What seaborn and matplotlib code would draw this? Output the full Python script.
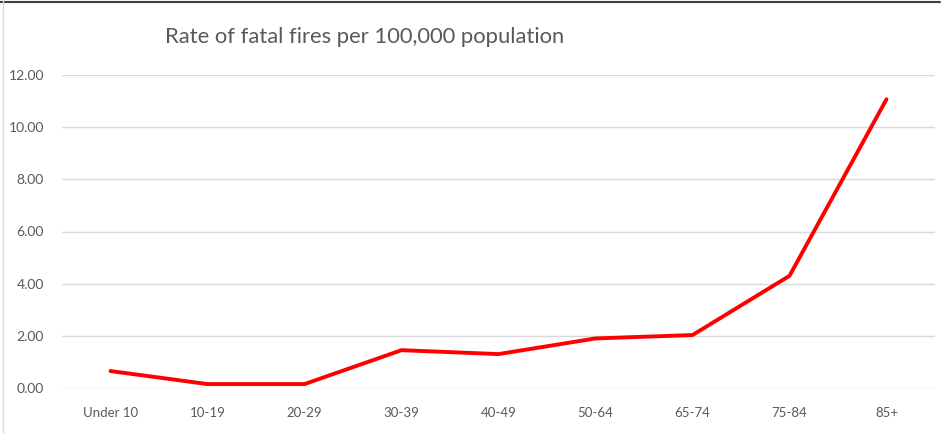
import matplotlib
matplotlib.use("Agg")
import matplotlib.pyplot as plt
import seaborn as sns
import pandas as pd
from matplotlib.lines import Line2D

categories = ["Under 10", "10-19", "20-29", "30-39", "40-49", "50-64", "65-74", "75-84", "85+"]
rates = [0.65, 0.15, 0.15, 1.45, 1.30, 1.90, 2.03, 4.30, 11.07]
y_ticks = [0, 2, 4, 6, 8, 10, 12]
title = "Rate of fatal fires per 100,000 population"

sns.set_theme(style="white")
plt.rcParams['font.family'] = ['Lato', 'DejaVu Sans']

df = pd.DataFrame({"age": categories, "rate": rates})

fig = plt.figure(figsize=(9.45, 4.33), dpi=100)
ax = fig.add_axes([62/945, 45/433, (935-62)/945, (388-75)/433])

sns.lineplot(data=df, x="age", y="rate", ax=ax, color="#FF0000", linewidth=2.8, sort=False)

ax.set_xlim(-0.5, len(categories) - 0.5)
ax.set_ylim(0, 12)
ax.set_yticks(y_ticks)
ax.set_yticklabels([f"{v:.2f}" for v in y_ticks])
ax.yaxis.grid(True, color="#D9D9D9", linewidth=1)
ax.xaxis.grid(False)
ax.set_axisbelow(True)
for s in ax.spines.values():
    s.set_visible(False)
ax.tick_params(axis="x", length=0, labelsize=9.5, colors="#595959", pad=14)
ax.tick_params(axis="y", length=0, labelsize=10, colors="#595959", pad=13)
ax.set_xlabel("")
ax.set_ylabel("")

fig.text(165/945, 1 - 37/433, title, fontsize=15.8, color="#595959", va="center", ha="left")

# frame
fig.add_artist(Line2D([0, 0.995], [1 - 2/433, 1 - 2/433], transform=fig.transFigure, color="#404040", linewidth=1.5))
fig.add_artist(Line2D([3/945, 3/945], [0, 1], transform=fig.transFigure, color="#D9D9D9", linewidth=1))

fig.savefig("out.png", dpi=100)
